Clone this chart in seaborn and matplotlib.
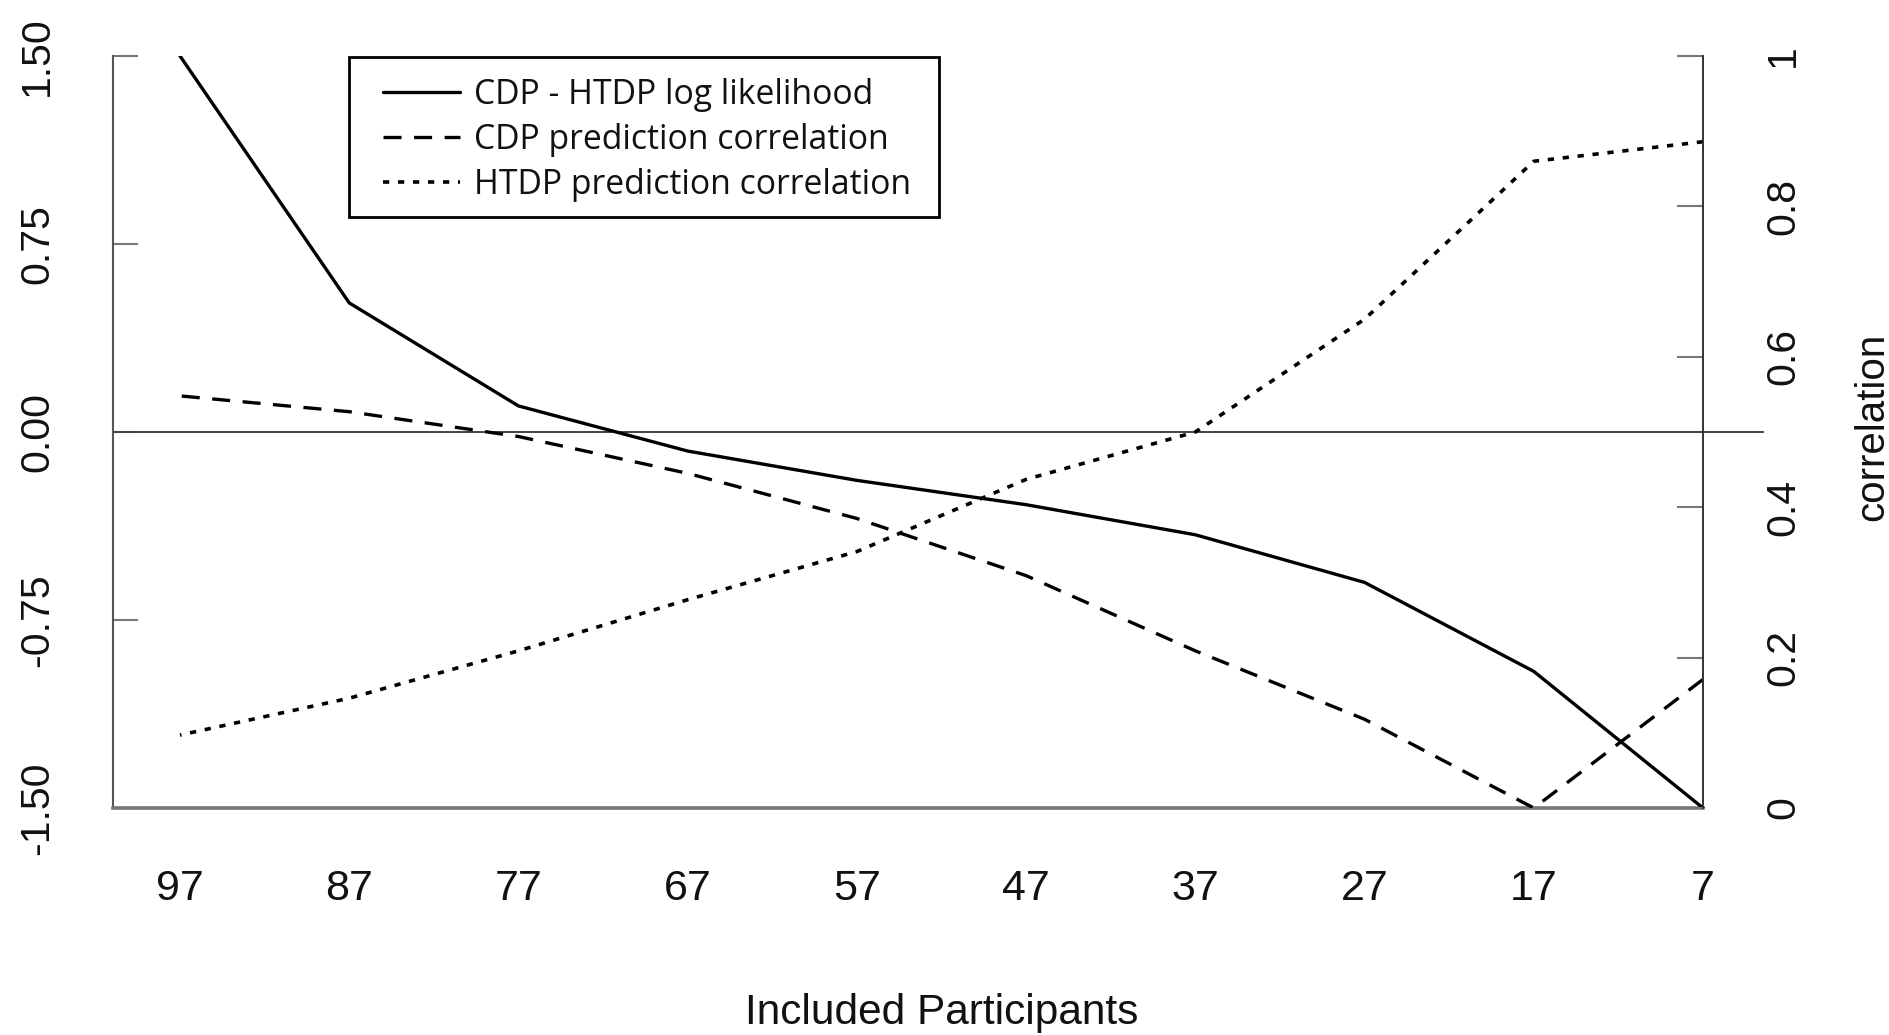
import matplotlib
matplotlib.use("Agg")
import matplotlib.pyplot as plt
from matplotlib.patches import Rectangle
import seaborn as sns
import pandas as pd

# ---- data ----
participants = [97, 87, 77, 67, 57, 47, 37, 27, 17, 7]
loglik_diff = [1.50, 0.515, 0.104, -0.076, -0.193, -0.29, -0.41, -0.60, -0.955, -1.50]
cdp_corr = [0.548, 0.527, 0.494, 0.445, 0.385, 0.309, 0.209, 0.118, 0.0, 0.171]
htdp_corr = [0.097, 0.146, 0.209, 0.277, 0.341, 0.437, 0.50, 0.65, 0.86, 0.886]

left_ticks = [-1.5, -0.75, 0.0, 0.75, 1.5]
left_labels = ["-1.50", "-0.75", "0.00", "0.75", "1.50"]
right_ticks = [0, 0.2, 0.4, 0.6, 0.8, 1.0]
right_labels = ["0", "0.2", "0.4", "0.6", "0.8", "1"]
x_labels = [str(p) for p in participants]
series_names = ["CDP - HTDP log likelihood",
                "CDP prediction correlation",
                "HTDP prediction correlation"]
x_title = "Included Participants"
right_title = "correlation"

df = pd.DataFrame({"participants": participants,
                   "loglik": loglik_diff,
                   "cdp": cdp_corr,
                   "htdp": htdp_corr})

sns.set_theme(style="white")
plt.rcParams["font.family"] = ["Liberation Sans", "DejaVu Sans"]
plt.rcParams["lines.scale_dashes"] = False

W, H = 1889, 1035
fig = plt.figure(figsize=(W / 100, H / 100), dpi=100)
fig.patch.set_facecolor("white")
ax = fig.add_axes([113 / W, (H - 808) / H, 1651 / W, 752 / H])
ax2 = ax.twinx()

axis_col = "#555555"
line_w = 2.4

sns.lineplot(data=df, x="participants", y="loglik", ax=ax, color="black",
             lw=line_w, legend=False, zorder=3)
h1 = ax.lines[-1]
ax.axhline(0, color="#444444", lw=1.4, zorder=1)

sns.lineplot(data=df, x="participants", y="cdp", ax=ax2, color="black",
             lw=line_w, legend=False)
h2 = ax2.lines[-1]
h2.set_dashes([13, 9])
h2.set_dash_capstyle("butt")
sns.lineplot(data=df, x="participants", y="htdp", ax=ax2, color="black",
             lw=line_w + 0.2, legend=False)
h3 = ax2.lines[-1]
h3.set_dashes([4.5, 6.3])
h3.set_dash_capstyle("butt")

# ---- axes ranges ----
ax.set_xlim(100.96, 3.395)
ax.set_ylim(-1.5, 1.5)
ax2.set_ylim(0, 1)

ax.set_xticks(participants)
ax.set_xticklabels(x_labels)
ax.set_yticks(left_ticks)
ax.set_yticklabels(left_labels)
ax2.set_yticks(right_ticks)
ax2.set_yticklabels(right_labels)
ax.grid(False)
ax2.grid(False)

# ---- spines ----
for s in ["top", "right"]:
    ax.spines[s].set_visible(False)
for s in ["top", "left", "bottom"]:
    ax2.spines[s].set_visible(False)
ax.spines["left"].set_color(axis_col)
ax.spines["left"].set_linewidth(1.5)
ax.spines["bottom"].set_color("#777777")
ax.spines["bottom"].set_linewidth(2.6)
ax.spines["bottom"].set_bounds(7, 100.96)
ax2.spines["right"].set_position(("data", 7))
ax2.spines["right"].set_color("#333333")
ax2.spines["right"].set_linewidth(1.4)

tick_fs = 29.5
ax.tick_params(axis="x", direction="in", length=18.7, width=1.5,
               color=axis_col, pad=44, labelsize=31, labelcolor="#111111")
ax.tick_params(axis="y", direction="in", length=18, width=1.5,
               color="#777777", pad=41, labelsize=tick_fs, labelcolor="#111111")
ax2.tick_params(axis="y", direction="in", length=18.7, width=1.5,
                color="#777777", pad=44, labelsize=tick_fs, labelcolor="#111111")
for t in ax.get_yticklabels():
    t.set_rotation(90)
    t.set_va("center")
    t.set_ha("right")
for t in ax2.get_yticklabels():
    t.set_rotation(90)
    t.set_va("center")
    t.set_ha("left")

# ---- axis titles ----
ax.set_xlabel(x_title, fontsize=30.5, color="#111111", va="top")
ax.xaxis.set_label_coords((942 - 113) / 1651, (808 - 993) / 752)
ax.set_ylabel("")
ax2.set_ylabel(right_title, fontsize=29, color="#111111", rotation=90,
               va="center", ha="center")
ax2.yaxis.set_label_coords((1872 - 113) / 1651, (808 - 427) / 752)

# ---- legend (frame drawn separately so that padding matches) ----
leg_fs = 24.3
leg = ax2.legend([h1, h2, h3], series_names, loc="upper left",
                 bbox_to_anchor=(383 / W, 1 - 78 / H),
                 bbox_transform=fig.transFigure, borderaxespad=0,
                 borderpad=0, frameon=False,
                 prop={"family": ["Open Sans", "DejaVu Sans"], "size": leg_fs},
                 handlelength=2.27, handletextpad=0.42,
                 labelspacing=0.32)
for txt in leg.get_texts():
    txt.set_color("#111111")
fig.add_artist(Rectangle((349 / W, 1 - 217 / H), (939 - 349) / W, (217 - 57) / H,
                         transform=fig.transFigure, fill=False,
                         edgecolor="black", linewidth=2.0, zorder=5))

fig.savefig("out.png", dpi=100, facecolor="white")
